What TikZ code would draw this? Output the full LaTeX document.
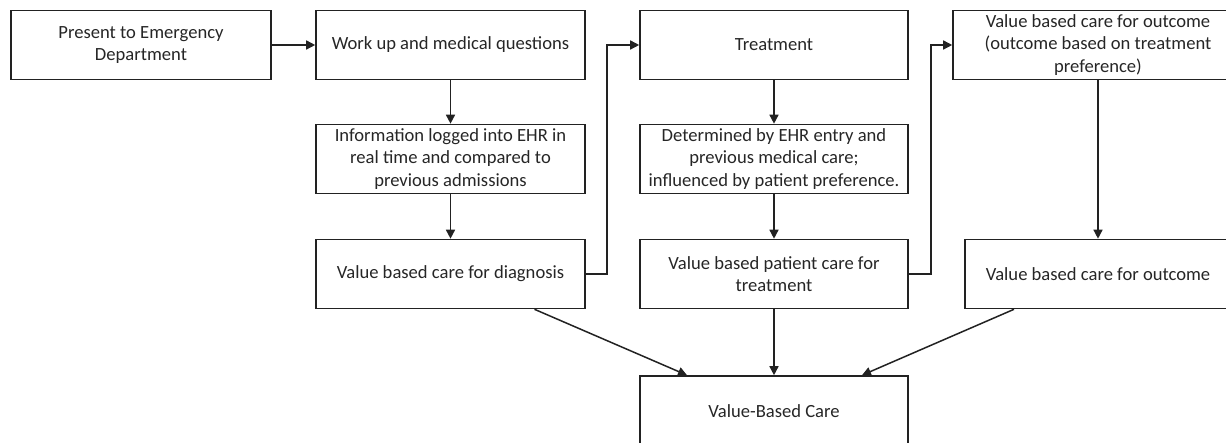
\documentclass[tikz,border=0pt]{standalone}
\usepackage{fontspec}
\setmainfont{Carlito}
\usepackage{tikz}
\usetikzlibrary{positioning, arrows.meta}
\definecolor{lineCol}{HTML}{222222}
\definecolor{txtCol}{HTML}{262626}

\begin{document}
\begin{tikzpicture}[x=1pt, y=-1pt, font=\fontsize{18.6}{22.7}\selectfont,
    stepbox/.style={draw=lineCol, line width=1.6pt, text=txtCol, align=center,
      minimum width=269pt, minimum height=69pt, inner sep=0pt},
    arr/.style={draw=lineCol, line width=1.5pt, -{Triangle[length=9pt, width=9pt]}}]
  \useasboundingbox (0,0) rectangle (1226,443);

  % first column
  \node[stepbox, minimum width=260pt] (present) at (141,45) {Present to Emergency\\Department};
  \node[stepbox] (workup) at (450.5,45) {Work up and medical questions};
  \node[stepbox] (logged) at (450.5,159) {Information logged into EHR in\\real time and compared to\\previous admissions};
  \node[stepbox] (diagnosis) at (450.5,274) {Value based care for diagnosis};

  % treatment column
  \node[stepbox, minimum width=268pt] (treatment) at (774,45) {Treatment};
  \node[stepbox, minimum width=268pt] (determined) at (774,159) {Determined by EHR entry and\\previous medical care;\\influenced by patient preference.};
  \node[stepbox, minimum width=268pt] (patient) at (774,274) {Value based patient care for\\treatment};

  % outcome column
  \node[stepbox, minimum width=290pt] (outcomeTop) at (1098,45) {Value based care for outcome\\(outcome based on treatment\\preference)};
  \node[stepbox, minimum width=266pt] (outcome) at (1098,274) {Value based care for outcome};

  \node[stepbox, minimum width=268pt, minimum height=70pt] (vbc) at (774,411) {Value-Based Care};

  \draw[arr] (present) -- (workup);
  \draw[arr] (workup) -- (logged);
  \draw[arr] (logged) -- (diagnosis);
  \draw[arr] (diagnosis.east) -- ++(21,0) |- (treatment.west);
  \draw[arr] (treatment) -- (determined);
  \draw[arr] (determined) -- (patient);
  \draw[arr] (patient.east) -- ++(22,0) |- (outcomeTop.west);
  \draw[arr] (outcomeTop) -- (outcome);

  \draw[arr] ([xshift=84pt]diagnosis.south) -- ([xshift=-87pt]vbc.north);
  \draw[arr] (patient) -- (vbc);
  \draw[arr] ([xshift=-84pt]outcome.south) -- ([xshift=88pt]vbc.north);
\end{tikzpicture}
\end{document}
